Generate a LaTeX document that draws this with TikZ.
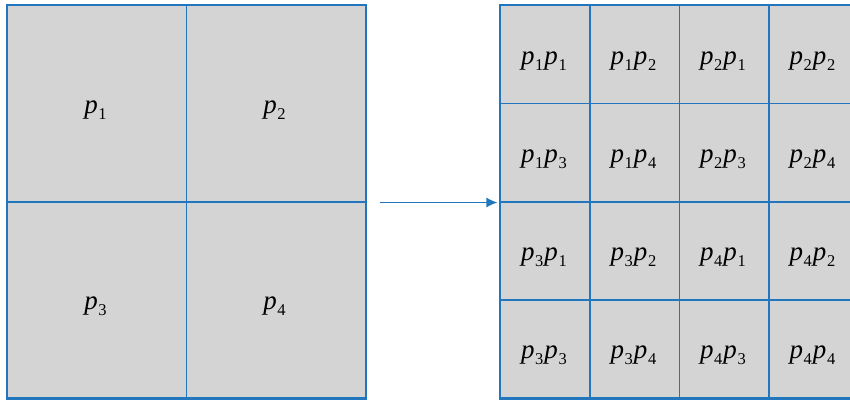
\documentclass[tikz,border=0pt]{standalone}
\usepackage{fontspec}
\setmainfont{Liberation Serif}
\usetikzlibrary{arrows.meta}
\definecolor{lblue}{RGB}{33,118,190}
\definecolor{cellgray}{RGB}{212,212,212}
\newcommand{\pp}[1]{\textit{p}\kern0.6pt\raisebox{-5.5pt}{\fontsize{16.5}{16.5}\selectfont #1}\kern1pt}
\tikzset{
  cellbase/.style={draw=lblue, line width=1.5pt, fill=cellgray, inner sep=0pt},
  bigcell/.style={cellbase, minimum width=179pt, minimum height=196.25pt},
  smallcell/.style={cellbase, minimum width=89.5pt, minimum height=98.125pt},
  celltext/.style={font=\fontsize{27}{27}\selectfont, inner sep=0pt, yshift=-6.5pt, xshift=-1pt},
  arrowline/.style={draw=lblue, line width=1.4pt, -{Latex[length=11pt,width=10pt]}}
}
\begin{document}
\begin{tikzpicture}[x=1pt,y=-1pt]
\useasboundingbox (0,0) rectangle (850,400);
\begin{scope}
\clip (0,0) rectangle (850,400);
% left grid
\node[bigcell, label={[celltext]center:\pp1}] (a1) at (97,103.625) {};
\node[bigcell, label={[celltext]center:\pp2}] (a2) at (276,103.625) {};
\node[bigcell, label={[celltext]center:\pp3}] (a3) at (97,299.875) {};
\node[bigcell, label={[celltext]center:\pp4}] (a4) at (276,299.875) {};
\draw[lblue, line width=2pt] (a1.north west) rectangle (a4.south east);
% right grid
\foreach \r/\ta/\tb/\tc/\td in {1/{\pp1\pp1}/{\pp1\pp2}/{\pp2\pp1}/{\pp2\pp2},
                                 2/{\pp1\pp3}/{\pp1\pp4}/{\pp2\pp3}/{\pp2\pp4},
                                 3/{\pp3\pp1}/{\pp3\pp2}/{\pp4\pp1}/{\pp4\pp2},
                                 4/{\pp3\pp3}/{\pp3\pp4}/{\pp4\pp3}/{\pp4\pp4}}{
  \node[smallcell, label={[celltext]center:\ta}] (b\r1) at (545.45,{5.5+98.125*(\r-0.5)}) {};
  \node[smallcell, label={[celltext]center:\tb}] (b\r2) at (634.95,{5.5+98.125*(\r-0.5)}) {};
  \node[smallcell, label={[celltext]center:\tc}] (b\r3) at (724.45,{5.5+98.125*(\r-0.5)}) {};
  \node[smallcell, label={[celltext]center:\td}] (b\r4) at (813.95,{5.5+98.125*(\r-0.5)}) {};
}
\draw[lblue, line width=2pt] (b11.north west) rectangle (b44.south east);
\end{scope}
% arrow
\draw[arrowline] ([xshift=13.5pt]a2.south east) -- ([xshift=-2.5pt]b21.south west);
\end{tikzpicture}
\end{document}
